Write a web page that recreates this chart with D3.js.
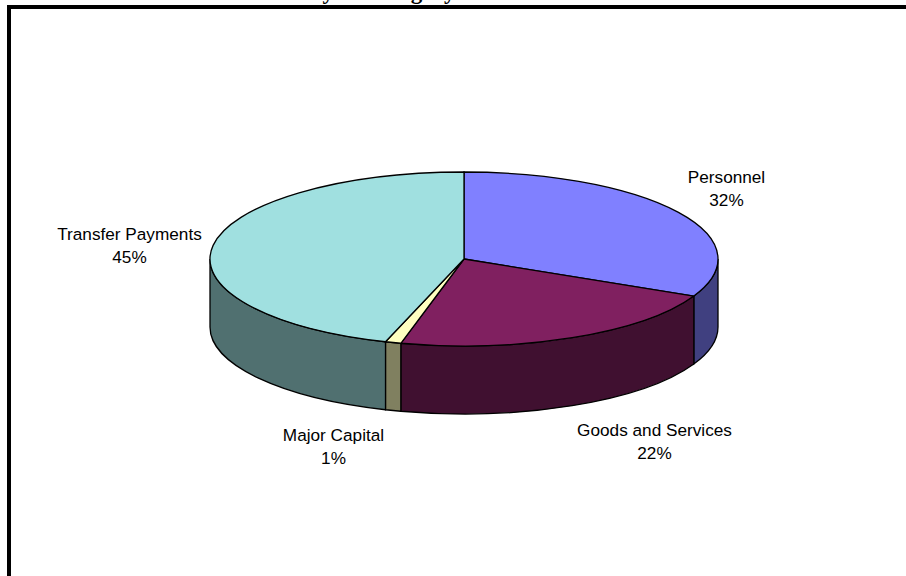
<!DOCTYPE html>
<html>
<head>
<meta charset="utf-8">
<script src="https://cdn.jsdelivr.net/npm/d3@7"></script>
<style>
  html, body { margin: 0; padding: 0; background: #fff; }
  svg { display: block; }
  text { font-family: "Liberation Sans", Arial, sans-serif; fill: #000; }
</style>
</head>
<body>
<svg id="chart" width="906" height="576"></svg>
<script>
// Budget shares, in percent
const categories = ["Personnel", "Goods and Services", "Major Capital", "Transfer Payments"];
const shares = [32, 22, 1, 45];
const topColors = ["#8080ff", "#802060", "#ffffc0", "#a0e0e0"];
const sideColors = ["#404080", "#401030", "#808060", "#507070"];
const labelAnchors = [[726.5, 177], [654.5, 430], [333.5, 435], [129.5, 234]];

const svg = d3.select("#chart");

// Heading line, cut off by the top of the page
svg.append("text")
  .attr("x", 237).attr("y", -1)
  .style("font-family", '"Liberation Serif", "Times New Roman", serif')
  .style("font-size", "23px").style("font-weight", "bold")
  .text("Summary of Category");

// Outer frame, running off the bottom of the page
svg.append("path")
  .attr("d", "M9,576V7H906")
  .attr("fill", "none").attr("stroke", "#000").attr("stroke-width", 4);

// Tilted pie geometry
const cx = 464, cy = 259, rx = 254, ry = 87, depth = 68;
const px = d3.scaleLinear().domain([-1, 1]).range([cx - rx, cx + rx]);
const py = d3.scaleLinear().domain([-1, 1]).range([cy - ry, cy + ry]);
const at = (a, dy = 0) => [px(Math.sin(a)), py(-Math.cos(a)) + dy];

const arcs = d3.pie().sort(null).value(d => d)(shares);

// Rim: only the part of each slice facing the viewer (3 to 9 o'clock)
const rim = svg.append("g").attr("stroke", "#000").attr("stroke-width", 1.3);
arcs.forEach((d, i) => {
  const a0 = Math.max(d.startAngle, Math.PI / 2);
  const a1 = Math.min(d.endAngle, 3 * Math.PI / 2);
  if (a1 <= a0) return;
  const [x0, y0] = at(a0), [x1, y1] = at(a1);
  const [x2, y2] = at(a1, depth), [x3, y3] = at(a0, depth);
  rim.append("path")
    .attr("d", `M${x0},${y0}A${rx},${ry} 0 0 1 ${x1},${y1}L${x2},${y2}A${rx},${ry} 0 0 0 ${x3},${y3}Z`)
    .attr("fill", sideColors[i]);
});

// Top face wedges
const face = svg.append("g").attr("stroke", "#000").attr("stroke-width", 1.3);
arcs.forEach((d, i) => {
  const [x0, y0] = at(d.startAngle), [x1, y1] = at(d.endAngle);
  const large = d.endAngle - d.startAngle > Math.PI ? 1 : 0;
  face.append("path")
    .attr("d", `M${cx},${cy}L${x0},${y0}A${rx},${ry} 0 ${large} 1 ${x1},${y1}Z`)
    .attr("fill", topColors[i]);
});

// Two-line category labels
const labels = svg.append("g")
  .attr("text-anchor", "middle")
  .style("font-size", "17.2px");
categories.forEach((name, i) => {
  const [x, y] = labelAnchors[i];
  labels.append("text").attr("x", x).attr("y", y + 6).text(name);
  labels.append("text").attr("x", x).attr("y", y + 29).text(shares[i] + "%");
});
</script>
</body>
</html>
